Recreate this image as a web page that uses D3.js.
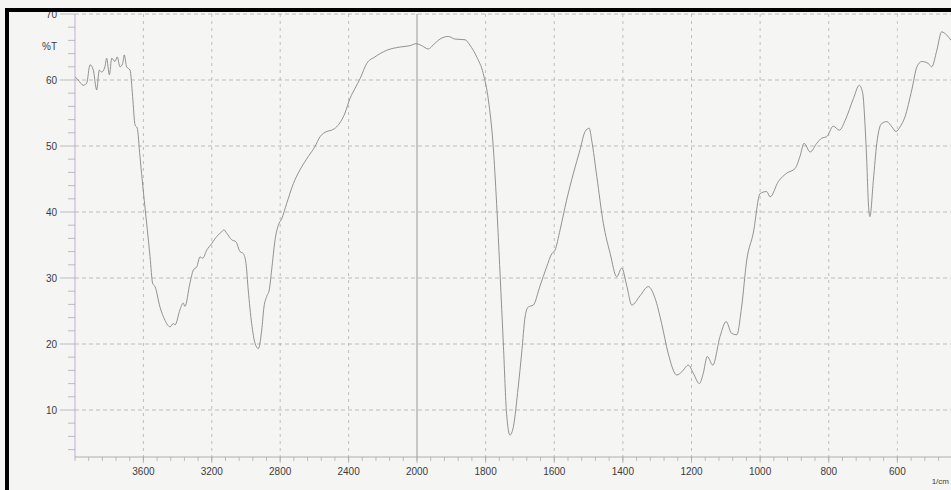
<!DOCTYPE html>
<html>
<head>
<meta charset="utf-8">
<script src="https://cdn.jsdelivr.net/npm/d3@7"></script>
<style>
  body { margin: 0; background: #f5f5f4; }
  svg { display: block; }
  text { font-family: "Liberation Sans", Arial, sans-serif; fill: #3c3c3c; }
</style>
</head>
<body>
<svg id="svg1" width="951" height="490"></svg>
<script>
// IR spectrum: wavenumber (1/cm) and %T
var wavenumber = [4000, 3981, 3952, 3932, 3912, 3893, 3873, 3858, 3844, 3825, 3815, 3799, 3785, 3766, 3753, 3737, 3721, 3712, 3698, 3678,
    3663, 3649, 3636, 3620, 3601, 3577, 3561, 3546, 3532, 3503, 3474, 3444, 3425, 3415, 3386, 3367, 3357, 3328, 3308, 3288,
    3269, 3253, 3230, 3201, 3171, 3142, 3129, 3113, 3084, 3059, 3035, 3016, 3000, 2987, 2967, 2947, 2928, 2908, 2895, 2879,
    2864, 2850, 2830, 2811, 2791, 2762, 2723, 2684, 2636, 2597, 2567, 2528, 2499, 2470, 2421, 2392, 2363, 2333, 2294, 2246,
    2177, 2099, 2041, 2006, 1986, 1967, 1953, 1933, 1909, 1889, 1860, 1846, 1826, 1807, 1792, 1778, 1768, 1758, 1748, 1739,
    1729, 1719, 1705, 1695, 1685, 1676, 1661, 1642, 1622, 1607, 1598, 1583, 1564, 1544, 1525, 1510, 1498, 1491, 1476, 1457,
    1437, 1418, 1403, 1389, 1374, 1350, 1326, 1306, 1287, 1268, 1243, 1228, 1209, 1195, 1177, 1166, 1154, 1138, 1117, 1099,
    1083, 1068, 1054, 1039, 1020, 1000, 981, 971, 947, 922, 898, 884, 872, 854, 835, 820, 806, 787, 769, 752,
    728, 711, 701, 694, 689, 685, 680, 670, 660, 646, 631, 616, 604, 592, 578, 558, 543, 529, 510, 500,
    485, 471, 456, 443, 430];
var transmittance = [60.5, 60.0, 59.2, 59.5, 62.3, 61.5, 58.5, 61.5, 61.2, 62.0, 63.3, 60.8, 63.3, 62.8, 63.5, 62.0, 62.5, 63.8, 62.0, 61.5,
    57.5, 53.2, 52.7, 48.4, 43.3, 37.3, 33.2, 29.2, 28.7, 25.6, 23.6, 22.6, 23.1, 22.9, 25.2, 26.2, 25.7, 29.2, 31.2, 31.7,
    33.2, 33.0, 34.2, 35.2, 36.3, 37.0, 37.3, 36.8, 35.8, 35.5, 34.0, 33.7, 32.2, 28.2, 23.1, 20.1, 19.3, 22.1, 25.6, 27.2,
    28.2, 31.2, 35.8, 38.0, 39.0, 41.3, 44.3, 46.4, 48.4, 49.9, 51.4, 52.2, 52.4, 52.9, 55.0, 57.2, 58.7, 60.2, 62.5, 63.5,
    64.5, 65.0, 65.2, 65.5, 65.2, 64.7, 65.3, 66.2, 66.6, 66.2, 66.1, 65.3, 63.5, 61.0, 57.0, 50.0, 41.3, 30.7, 19.6, 9.5,
    6.2, 7.5, 13.5, 18.6, 24.1, 25.6, 25.9, 28.7, 31.7, 33.7, 34.2, 37.3, 41.8, 45.9, 49.4, 52.2, 52.7, 50.9, 45.4, 38.3,
    33.7, 30.2, 31.5, 28.9, 25.9, 27.3, 28.7, 26.9, 23.1, 18.6, 15.3, 15.8, 16.8, 15.6, 14.0, 15.5, 18.1, 16.8, 21.1, 23.4,
    21.6, 21.4, 25.6, 32.7, 36.8, 42.8, 43.1, 42.3, 44.6, 45.9, 46.6, 48.4, 50.4, 49.1, 50.4, 51.2, 51.4, 53.0, 52.4, 53.9,
    57.2, 59.2, 58.0, 52.9, 47.4, 41.8, 39.3, 44.8, 50.4, 53.4, 53.7, 52.9, 52.2, 52.9, 54.4, 58.5, 62.0, 62.8, 62.5, 62.0,
    64.5, 67.3, 66.8, 66.0, 65.5];

var yTicks = [10, 20, 30, 40, 50, 60, 70];
var xTicks = [3600, 3200, 2800, 2400, 2000, 1800, 1600, 1400, 1200, 1000, 800, 600];

var width = 951;
var height = 490;

// the instrument scale is halved above 2000 1/cm
var scaleX = d3.scaleLinear().domain([4000, 2000, 400]).range([75, 417, 966]);
var scaleY = d3.scaleLinear().domain([0, 70]).range([476, 14]);
var axisY0 = 457;   // pixel row of the x axis line
var axisX0 = scaleX(4000);

var svg = d3.select('#svg1');

svg.append('rect')
    .attr('width', width).attr('height', height)
    .attr('fill', '#f5f5f4');

svg.append('defs').append('clipPath')
    .attr('id', 'plotClip')
    .append('rect')
    .attr('x', axisX0).attr('y', 12)
    .attr('width', width - axisX0).attr('height', axisY0 - 12);

// grid
var grid = svg.append('g').attr('class', 'grid');

grid.selectAll('.hgrid')
    .data(yTicks)
    .enter().append('line')
    .attr('class', 'hgrid')
    .attr('x1', axisX0).attr('x2', width)
    .attr('y1', function(d){ return scaleY(d); })
    .attr('y2', function(d){ return scaleY(d); })
    .attr('stroke', '#a8a8a8')
    .attr('stroke-width', 0.7)
    .attr('stroke-dasharray', '4,3');

grid.selectAll('.vgrid')
    .data(xTicks)
    .enter().append('line')
    .attr('class', 'vgrid')
    .attr('x1', function(d){ return scaleX(d); })
    .attr('x2', function(d){ return scaleX(d); })
    .attr('y1', scaleY(70)).attr('y2', axisY0)
    .attr('stroke', function(d){ return d == 2000 ? '#8f8f8f' : (d == 600 ? '#bcc27a' : '#a8a8a8'); })
    .attr('stroke-width', function(d){ return d == 2000 ? 0.9 : 0.7; })
    .attr('stroke-dasharray', function(d){ return d == 2000 ? null : '3,4'; });

// y axis (minor ticks every 2 %T)
var yAxis = svg.append('g').attr('class', 'y-axis');
yAxis.append('line')
    .attr('x1', axisX0).attr('x2', axisX0)
    .attr('y1', scaleY(70)).attr('y2', axisY0)
    .attr('stroke', '#c4addd').attr('stroke-width', 1);

var yMinor = d3.range(4, 70, 2).filter(function(d){ return d % 10 != 0; });
yAxis.selectAll('.yminor')
    .data(yMinor)
    .enter().append('line')
    .attr('x1', axisX0 - 7).attr('x2', axisX0)
    .attr('y1', function(d){ return scaleY(d); })
    .attr('y2', function(d){ return scaleY(d); })
    .attr('stroke', '#a5a5a5').attr('stroke-width', 0.7);

yAxis.selectAll('.ymajor')
    .data(yTicks)
    .enter().append('line')
    .attr('x1', axisX0 - 15).attr('x2', axisX0)
    .attr('y1', function(d){ return scaleY(d); })
    .attr('y2', function(d){ return scaleY(d); })
    .attr('stroke', '#a5a5a5').attr('stroke-width', 0.7);

yAxis.selectAll('.ylabel')
    .data(yTicks)
    .enter().append('text')
    .attr('x', axisX0 - 18)
    .attr('y', function(d){ return scaleY(d) + 3.5; })
    .attr('text-anchor', 'end')
    .attr('font-size', 10)
    .text(function(d){ return d; });

svg.append('text')
    .attr('x', 42).attr('y', 50)
    .attr('font-size', 10)
    .text('%T');

// x axis: minor ticks every 80 above 2000, every 40 below
var xAxis = svg.append('g').attr('class', 'x-axis');
xAxis.append('line')
    .attr('x1', axisX0).attr('x2', width)
    .attr('y1', axisY0).attr('y2', axisY0)
    .attr('stroke', '#a0a0a0').attr('stroke-width', 0.8);

var xMinor = d3.range(4000, 2000, -80).concat(d3.range(2000, 400, -40));
xAxis.selectAll('.xminor')
    .data(xMinor)
    .enter().append('line')
    .attr('x1', function(d){ return scaleX(d); })
    .attr('x2', function(d){ return scaleX(d); })
    .attr('y1', axisY0).attr('y2', axisY0 + 4)
    .attr('stroke', '#a5a5a5').attr('stroke-width', 0.7);

xAxis.selectAll('.xmajor')
    .data(xTicks)
    .enter().append('line')
    .attr('x1', function(d){ return scaleX(d); })
    .attr('x2', function(d){ return scaleX(d); })
    .attr('y1', axisY0).attr('y2', axisY0 + 6)
    .attr('stroke', '#a5a5a5').attr('stroke-width', 0.7);

xAxis.selectAll('.xlabel')
    .data(xTicks)
    .enter().append('text')
    .attr('x', function(d){ return scaleX(d); })
    .attr('y', axisY0 + 18)
    .attr('text-anchor', 'middle')
    .attr('font-size', 10)
    .text(function(d){ return d; });

svg.append('text')
    .attr('x', 949).attr('y', 484)
    .attr('text-anchor', 'end')
    .attr('font-size', 8)
    .text('1/cm');

// spectrum
var spectrum = wavenumber.map(function(d, i){ return {wn: d, t: transmittance[i]}; });

var line = d3.line()
    .x(function(d){ return scaleX(d.wn); })
    .y(function(d){ return scaleY(d.t); })
    .curve(d3.curveMonotoneX);

svg.append('path')
    .datum(spectrum)
    .attr('clip-path', 'url(#plotClip)')
    .attr('d', line)
    .attr('fill', 'none')
    .attr('stroke', '#808080')
    .attr('stroke-width', 0.85);

// black scan frame
svg.append('rect')
    .attr('x', 5).attr('y', 8)
    .attr('width', width - 5).attr('height', 4)
    .attr('fill', '#000');
svg.append('rect')
    .attr('x', 5).attr('y', 8)
    .attr('width', 4).attr('height', height - 8)
    .attr('fill', '#000');
</script>
</body>
</html>
